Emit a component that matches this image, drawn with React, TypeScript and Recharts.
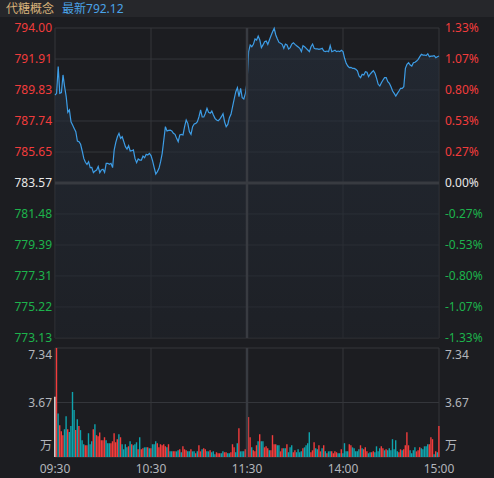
import { ComposedChart, Area, Line, Bar, Cell, XAxis, YAxis, CartesianGrid, ReferenceLine } from 'recharts'

const NAME = '代糖概念'
const LAST = '792.12'
const PREV_CLOSE = 783.57

const priceTicks = [794.0, 791.91, 789.83, 787.74, 785.65, 783.57, 781.48, 779.39, 777.31, 775.22, 773.13]
const pctLabels = ['1.33%', '1.07%', '0.80%', '0.53%', '0.27%', '0.00%', '-0.27%', '-0.53%', '-0.80%', '-1.07%', '-1.33%']
const volumeTicks = [0, 3.67, 7.34]
const timeTicks = [0, 60, 120, 180, 240]
const timeLabels = ['09:30', '10:30', '11:30', '14:00', '15:00']

// 09:30 - 11:30, one point a minute
const priceAM = [
  789.49, 789.6, 791.4, 789.6, 789.65, 790.84, 790.05, 789.38, 788.32, 788.48,
  787.69, 787.47, 787.24, 787.02, 786.39, 786.35, 786.17, 785.72, 785.22, 784.96,
  784.82, 785.0, 784.6, 784.62, 784.26, 784.37, 784.44, 784.67, 784.26, 784.44,
  784.49, 784.28, 784.89, 784.89, 784.82, 784.89, 784.6, 785.79, 786.3, 786.68,
  786.91, 786.57, 786.68, 786.35, 786.01, 785.85, 786.08, 785.72, 785.74, 785.79,
  785.22, 784.93, 785.18, 785.11, 785.11, 785.38, 785.27, 785.5, 785.45, 785.56,
  785.41, 785.05, 784.6, 784.17, 784.33, 784.55, 785.0, 785.56, 786.46, 787.36,
  787.07, 787.11, 787.13, 787.07, 786.91, 786.84, 786.57, 786.35, 786.8, 786.84,
  786.8, 787.36, 787.81, 787.58, 787.02, 786.84, 787.36, 787.54, 787.58, 787.69,
  788.03, 788.48, 788.01, 788.01, 788.26, 788.59, 788.32, 788.26, 788.41, 788.14,
  787.92, 787.81, 787.76, 787.87, 788.03, 788.23, 787.69, 787.36, 787.51, 787.96,
  788.19, 788.7, 789.22, 789.71, 789.98, 789.38, 789.94, 789.31, 789.22, 789.6,
  790.34,
]

// 13:01 - 15:00
const pricePM = [
  792.41, 792.86, 792.74, 792.9, 793.26, 793.19, 793.46, 793.19, 792.68, 792.86,
  793.08, 793.13, 792.9, 793.19, 793.48, 793.75, 793.98, 793.53, 793.26, 793.03,
  792.97, 792.9, 792.63, 792.92, 792.86, 792.59, 792.68, 792.92, 793.01, 792.9,
  792.81, 792.72, 792.63, 792.41, 792.81, 792.74, 792.63, 792.52, 792.41, 792.74,
  792.92, 792.63, 792.59, 792.59, 792.56, 792.59, 792.63, 792.45, 792.41, 792.45,
  792.41, 792.81, 792.41, 792.45, 792.5, 792.41, 792.45, 792.41, 792.5, 792.41,
  791.96, 791.62, 791.44, 791.33, 791.35, 791.28, 791.28, 791.22, 791.11, 790.77,
  790.66, 790.88, 790.84, 791.06, 791.02, 790.72, 790.9, 791.02, 791.13, 790.95,
  790.61, 790.21, 790.1, 790.32, 790.5, 790.66, 790.66, 790.39, 790.27, 790.05,
  789.76, 789.6, 789.42, 789.6, 789.76, 789.94, 789.94, 790.05, 791.28, 791.55,
  791.66, 791.51, 791.44, 791.66, 791.69, 791.78, 791.89, 792.07, 792.23, 792.18,
  792.18, 792.14, 792.27, 792.07, 792.11, 792.11, 792.14, 792.0, 792.07, 792.12,
]

// volume in 万
const volumeAM = [
  4.06, 7.34, 2.93, 2.14, 1.74, 1.47, 1.87, 2.75, 1.87, 1.69,
  2.08, 4.38, 3.16, 1.81, 2.55, 2.08, 1.81, 1.13, 0.86, 0.79,
  0.79, 1.6, 0.86, 1.06, 1.87, 2.21, 1.47, 1.4, 1.65, 1.13,
  1.13, 1.33, 1.13, 0.93, 0.93, 0.93, 1.06, 1.6, 0.99, 1.2,
  1.53, 1.33, 0.86, 0.52, 0.86, 0.65, 0.72, 1.06, 0.86, 0.79,
  0.86, 0.99, 0.52, 1.33, 0.52, 0.59, 0.65, 0.65, 0.65, 0.59,
  0.59, 0.86, 0.86, 1.06, 0.93, 0.65, 0.86, 0.79, 0.86, 0.72,
  0.65, 0.86, 0.38, 0.38, 0.38, 0.38, 0.38, 0.45, 0.52, 0.32,
  0.72, 0.52, 0.45, 0.38, 0.38, 0.52, 0.38, 0.38, 0.25, 0.38,
  0.79, 0.38, 0.52, 0.59, 0.52, 0.38, 0.38, 0.45, 0.32, 0.38,
  0.18, 0.32, 0.25, 0.25, 0.25, 0.38, 0.32, 0.32, 0.25, 0.25,
  0.32, 0.86, 0.65, 0.32, 0.93, 1.94, 0.38, 0.38, 0.38, 0.52,
  1.2, 2.69,
]

const volumePM = [
  1.33, 0.65, 0.45, 0.38, 0.79, 1.06, 1.53, 1.06, 1.06, 0.65,
  0.72, 0.59, 0.45, 0.45, 1.47, 0.86, 0.86, 0.79, 0.79, 0.38,
  0.59, 0.59, 0.59, 0.86, 0.32, 0.65, 0.79, 0.32, 0.45, 0.32,
  0.52, 0.32, 0.38, 0.59, 0.65, 0.79, 0.93, 1.67, 0.32, 0.45,
  0.99, 0.59, 0.52, 0.79, 0.38, 0.59, 0.79, 0.38, 0.25, 0.38,
  0.38, 0.38, 0.25, 0.38, 0.32, 0.25, 0.25, 0.52, 0.25, 0.93,
  0.38, 0.38, 0.86, 0.79, 0.65, 0.59, 0.38, 0.38, 0.52, 0.79,
  0.59, 0.52, 0.65, 0.38, 0.25, 0.32, 0.32, 0.38, 0.32, 0.72,
  0.38, 0.59, 0.72, 0.59, 0.45, 0.52, 0.45, 0.59, 0.45, 1.2,
  0.52, 1.13, 0.38, 0.32, 0.52, 0.45, 0.52, 0.79, 1.67, 0.79,
  0.45, 0.25, 0.45, 0.65, 0.38, 0.45, 0.65, 0.59, 0.52, 0.72,
  0.72, 0.86, 0.86, 1.33, 1.2, 0.18, 0.38, 0.32, 2.08,
]

// 1 = up (red), -1 = down (teal), 0 = flat (white)
const sideAM = [
  0, 1, -1, 1, 1, 1, -1, -1, 1, -1,
  -1, -1, -1, 1, -1, 1, -1, -1, -1, 1,
  1, -1, -1, -1, 1, -1, 1, 1, 1, 1,
  1, 1, -1, -1, -1, 1, 1, 1, 1, 1,
  -1, 1, -1, -1, -1, -1, 1, -1, 1, -1,
  -1, -1, 1, -1, 1, 1, -1, -1, 1, -1,
  1, -1, -1, -1, 1, 1, 1, 1, 1, 1,
  -1, 1, -1, -1, 1, 1, -1, -1, 1, -1,
  1, 1, 1, -1, -1, 1, -1, -1, 1, -1,
  1, 1, -1, 1, 1, -1, -1, 1, -1, -1,
  -1, 1, 1, 1, -1, -1, 1, 1, -1, -1,
  1, 1, 1, -1, -1, 1, -1, -1, -1, 1,
  1, 1,
]

const sidePM = [
  1, -1, 1, 1, 1, -1, 1, -1, -1, 1,
  1, 1, -1, 1, 1, 1, 1, -1, -1, 1,
  1, -1, -1, 1, -1, -1, -1, 1, 1, -1,
  -1, -1, -1, 1, -1, -1, -1, -1, 1, 1,
  1, -1, -1, 1, 1, -1, 1, -1, 1, -1,
  -1, 1, 1, 1, 1, -1, -1, 1, -1, -1,
  -1, -1, 1, 1, -1, -1, -1, -1, -1, 1,
  -1, 1, 1, 1, -1, -1, 1, 1, -1, -1,
  -1, -1, 1, 1, -1, 1, -1, -1, -1, -1,
  -1, -1, -1, 1, 1, -1, 1, 1, 1, 1,
  -1, -1, -1, -1, 1, 1, 1, -1, -1, -1,
  -1, -1, 1, 1, 1, -1, 1, -1, 1,
]

const prices = [...priceAM, ...pricePM]
const volumes = [...volumeAM, ...volumePM]
const sides = [...sideAM, ...sidePM]
const data = prices.map((price, i) => ({ t: i, price, vol: volumes[i], side: sides[i] }))

const BG = '#1c1d21'
const GRID = '#34363b'
const RED = '#f23c3c'
const GREEN = '#1db34c'
const WHITE = '#e8e8e8'
const TEAL = '#0fa3ad'
const GREY = '#b3b6bc'
const LINE = '#3d9de6'
const FONT = '"Noto Sans", "Noto Sans CJK SC", sans-serif'

const priceColor = (v: number) => (v > PREV_CLOSE + 0.001 ? RED : v < PREV_CLOSE - 0.001 ? GREEN : WHITE)
const barColor = (s: number) => (s > 0 ? RED : s < 0 ? TEAL : '#f2f2f2')

function PriceTick({ x, y, payload }: any) {
  const v = payload.value
  return (
    <text x={x} y={y} dy={4} textAnchor="end" fill={priceColor(v)} fontSize={12} fontFamily={FONT}>
      {v.toFixed(2)}
    </text>
  )
}

function PctTick({ x, y, payload }: any) {
  const v = payload.value
  return (
    <text x={x} y={y} dy={4} textAnchor="start" fill={priceColor(v)} fontSize={12} fontFamily={FONT}>
      {pctLabels[priceTicks.indexOf(v)]}
    </text>
  )
}

function VolumeTick({ x, y, payload, anchor }: any) {
  const v = payload.value
  const shift = v === 0 ? -11 : v === volumeTicks[volumeTicks.length - 1] ? 7 : 0
  return (
    <text x={x} y={y + shift} dy={4} textAnchor={anchor} fill={GREY} fontSize={12} fontFamily={FONT}>
      {v === 0 ? '万' : v.toFixed(2)}
    </text>
  )
}

function TimeTick({ x, y, payload }: any) {
  return (
    <text x={x} y={y} dy={16} textAnchor="middle" fill={GREY} fontSize={12} fontFamily={FONT}>
      {timeLabels[timeTicks.indexOf(payload.value)]}
    </text>
  )
}

export default function App() {
  return (
    <div style={{ position: 'fixed', left: 0, top: 0, width: 494, height: 478, background: BG, overflow: 'hidden' }}>
      <div
        style={{
          position: 'absolute', left: 0, top: 0, width: 494, height: 17, background: '#26272b',
          fontFamily: FONT, fontSize: 12, lineHeight: '18px', paddingLeft: 6, boxSizing: 'border-box',
        }}
      >
        <span style={{ color: '#d8b27a' }}>{NAME}</span>
        <span style={{ color: '#4aa3e8', marginLeft: 8 }}>最新{LAST}</span>
      </div>

      <div style={{ position: 'absolute', left: 0, top: 0 }}>
        <ComposedChart width={494} height={346} data={data} margin={{ top: 28, right: 0, bottom: 8, left: 0 }}>
          <defs>
            <linearGradient id="areaFill" x1="0" y1="0" x2="0" y2="1">
              <stop offset="0%" stopColor="#27313f" stopOpacity={0.95} />
              <stop offset="100%" stopColor="#1f232a" stopOpacity={0.95} />
            </linearGradient>
          </defs>
          <CartesianGrid stroke={GRID} yAxisId="left" />
          <XAxis dataKey="t" type="number" domain={[0, 240]} ticks={timeTicks} hide />
          <YAxis
            yAxisId="left" width={55} domain={[773.13, 794]} ticks={priceTicks} interval={0}
            axisLine={false} tickLine={false} tickSize={0} tickMargin={3} tick={PriceTick}
          />
          <YAxis
            yAxisId="right" orientation="right" width={55} domain={[773.13, 794]} ticks={priceTicks} interval={0}
            axisLine={false} tickLine={false} tickSize={0} tickMargin={6} tick={PctTick}
          />
          <ReferenceLine yAxisId="left" y={PREV_CLOSE} stroke="#383b41" strokeWidth={3} />
          <ReferenceLine yAxisId="left" x={120} stroke="#383b41" strokeWidth={2.5} />
          <Area
            yAxisId="left" type="linear" dataKey="price" stroke={LINE} strokeWidth={1.2}
            fill="url(#areaFill)" dot={false} activeDot={false} isAnimationActive={false}
          />
          <Line
            yAxisId="right" type="linear" dataKey="price" stroke="none" dot={false}
            activeDot={false} isAnimationActive={false}
          />
        </ComposedChart>
      </div>

      <div style={{ position: 'absolute', left: 0, top: 340 }}>
        <ComposedChart width={494} height={138} data={data} margin={{ top: 8, right: 0, bottom: 0, left: 0 }}>
          <CartesianGrid stroke={GRID} yAxisId="left" />
          <XAxis
            dataKey="t" type="number" domain={[0, 240]} ticks={timeTicks} interval={0} height={21}
            axisLine={false} tickLine={false} tickSize={0} tickMargin={0} tick={TimeTick}
          />
          <YAxis
            yAxisId="left" width={55} domain={[0, 7.34]} ticks={volumeTicks} interval={0}
            axisLine={false} tickLine={false} tickSize={0} tickMargin={3}
            tick={(p: any) => <VolumeTick {...p} anchor="end" />}
          />
          <YAxis
            yAxisId="right" orientation="right" width={55} domain={[0, 7.34]} ticks={volumeTicks} interval={0}
            axisLine={false} tickLine={false} tickSize={0} tickMargin={6}
            tick={(p: any) => <VolumeTick {...p} anchor="start" />}
          />
          <ReferenceLine yAxisId="left" x={120} stroke="#383b41" strokeWidth={2.5} />
          <Bar yAxisId="left" dataKey="vol" barSize={1.4} isAnimationActive={false}>
            {data.map((d, i) => (
              <Cell key={i} fill={barColor(d.side)} />
            ))}
          </Bar>
          <Line
            yAxisId="right" type="linear" dataKey="vol" stroke="none" dot={false}
            activeDot={false} isAnimationActive={false}
          />
        </ComposedChart>
      </div>
    </div>
  )
}
